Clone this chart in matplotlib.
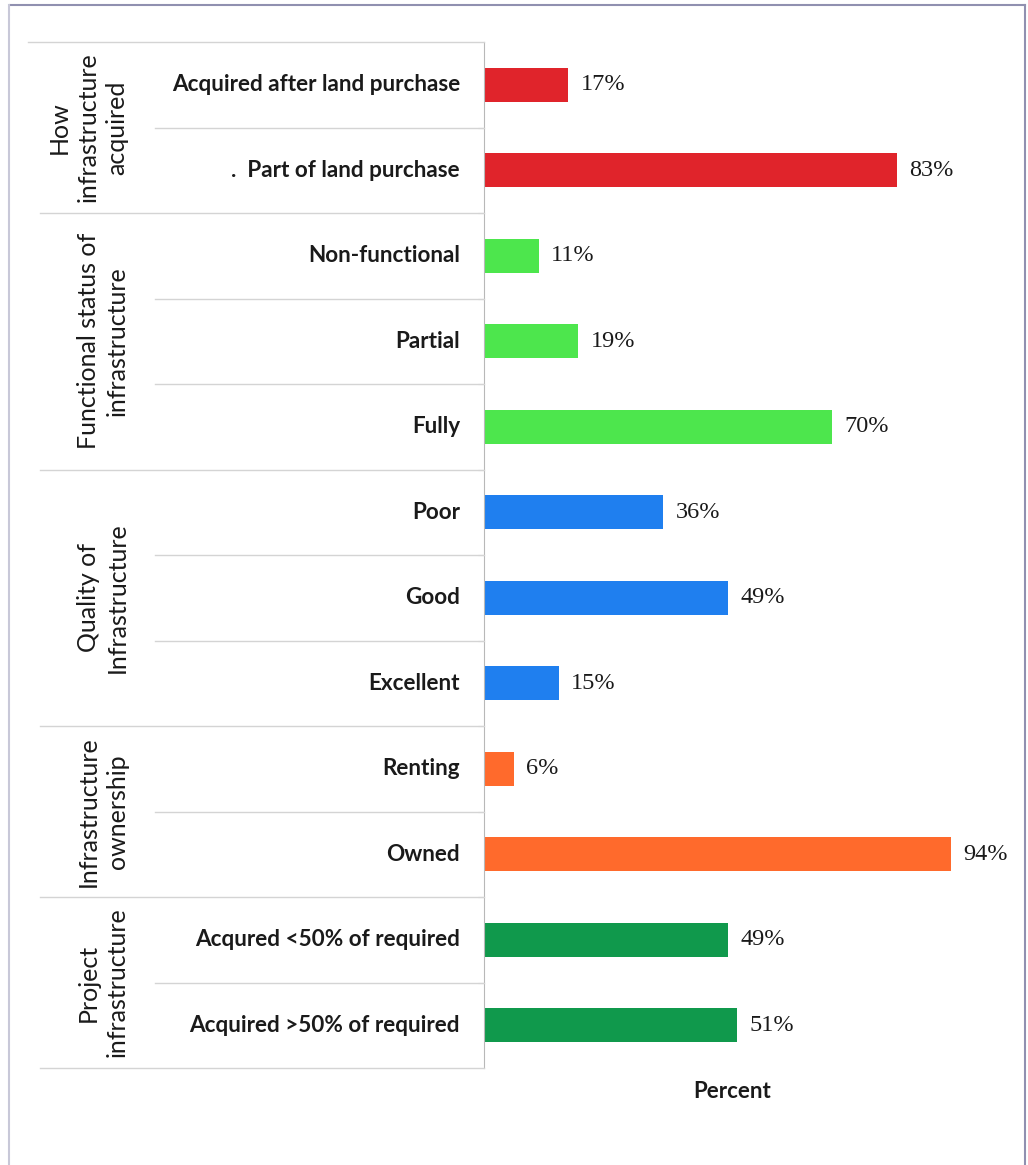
import matplotlib.pyplot as plt
import matplotlib.transforms as mtransforms
from matplotlib.lines import Line2D

# survey results on project infrastructure, percent of respondents
groups = ["How\ninfrastructure\nacquired",
          "Functional status of\ninfrastructure",
          "Quality of\nInfrastructure",
          "Infrastructure\nownership",
          "Project\ninfrastructure"]
group_sizes = [2, 3, 3, 2, 2]
group_colors = ["#E0242B", "#4DE64D", "#1F7FEF", "#FF6A2C", "#10994C"]

categories = ["Acquired after land purchase", ".  Part of land purchase",
              "Non-functional", "Partial", "Fully",
              "Poor", "Good", "Excellent",
              "Renting", "Owned",
              "Acqured <50% of required", "Acquired >50% of required"]
values = [17, 83, 11, 19, 70, 36, 49, 15, 6, 94, 49, 51]

W, H = 1028, 1165
fig = plt.figure(figsize=(W / 100, H / 100), dpi=100)
ax = fig.add_axes([484 / W, (H - 1068) / H, 497 / W, 1026 / H])

colors = []
for c, n in zip(group_colors, group_sizes):
    colors += [c] * n
ypos = list(range(len(values)))

ax.barh(ypos, values, height=0.4, color=colors)
ax.set_xlim(0, 100)
ax.set_ylim(len(values) - 0.5, -0.5)

for y, v in zip(ypos, values):
    ax.annotate(f"{v}%", (v, y), xytext=(9, 0), textcoords="offset points",
                va="center", ha="left", fontsize=17.5, color="#1a1a1a",
                family="Liberation Serif")

for s in ["top", "right", "bottom"]:
    ax.spines[s].set_visible(False)
ax.spines["left"].set_color("#b8b8b8")
ax.set_xticks([])
ax.set_yticks([i - 0.5 for i in range(1, len(values))])
ax.set_yticklabels([])
ax.tick_params(axis="y", length=4, color="#b8b8b8")
ax.set_xlabel("Percent", fontsize=16, fontweight="bold", family="Lato",
              color="#1a1a1a", labelpad=9)

# table on the left: x in figure pixels, y in rows
tr = mtransforms.blended_transform_factory(
    mtransforms.Affine2D().scale(1 / W, 1 / H) + fig.transFigure, ax.transData)
line_kw = dict(color="#d4d4d4", lw=1, transform=tr, clip_on=False)

start = 0
for gi, (g, n) in enumerate(zip(groups, group_sizes)):
    x0 = 28 if gi == 0 else 40
    fig.add_artist(Line2D([x0, 484], [start - 0.5, start - 0.5], **line_kw))
    for k in range(1, n):
        fig.add_artist(Line2D([155, 484], [start + k - 0.5, start + k - 0.5], **line_kw))
    cx = 88 if g.count("\n") == 2 else 103
    fig.text(cx, start + (n - 1) / 2, g, transform=tr, rotation=90,
             ha="center", va="center", fontsize=18, family="Lato",
             color="#1a1a1a", linespacing=1.3, multialignment="center")
    start += n
fig.add_artist(Line2D([40, 484], [start - 0.5, start - 0.5], **line_kw))

for y, c in zip(ypos, categories):
    fig.text(460, y, c, transform=tr, ha="right", va="center",
             fontsize=16.2, fontweight="bold", family="Lato", color="#1a1a1a")

# outer frame
fr = mtransforms.Affine2D().scale(1 / W, 1 / H) + fig.transFigure
frame_kw = dict(color="#9090b0", lw=1.5, transform=fr)
fig.add_artist(Line2D([10, 1025], [H - 5, H - 5], **frame_kw))
fig.add_artist(Line2D([1025, 1025], [H - 5, 0], **frame_kw))
fig.add_artist(Line2D([9, 9], [H - 5, 0], color="#c8c8d8", lw=1.5, transform=fr))

fig.savefig("out.png", dpi=100)
